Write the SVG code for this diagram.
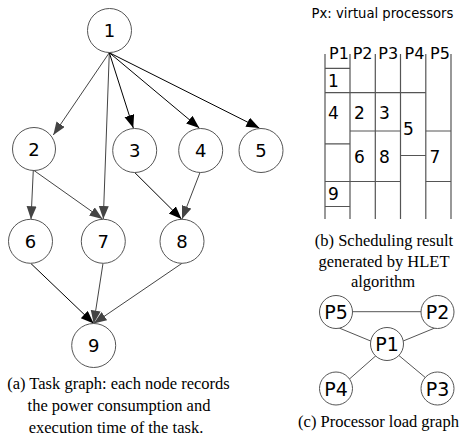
<svg xmlns="http://www.w3.org/2000/svg" width="468" height="439" viewBox="0 0 468 439">
<style>
.node circle{fill:#fff;stroke:#555;stroke-width:1}
.num{font-family:"DejaVu Sans",sans-serif;font-size:18px;fill:#000;text-anchor:middle}
.pn{font-family:"DejaVu Sans",sans-serif;font-size:19px;fill:#000;text-anchor:middle}
.cap{font-family:"Liberation Serif",serif;font-size:16.5px;fill:#000;text-anchor:middle}
.hd{font-family:"DejaVu Sans",sans-serif;font-size:16px;fill:#000}
.cell{font-family:"DejaVu Sans",sans-serif;font-size:17px;fill:#000}
.eb{stroke:#000;stroke-width:1;fill:none;marker-end:url(#ab)}
.eg{stroke:#444;stroke-width:1;fill:none;marker-end:url(#ag)}
.tl{stroke:#555;stroke-width:1.2;fill:none}
.pl{stroke:#555;stroke-width:1;fill:none}
</style>
<defs>
<marker id="ab" markerUnits="userSpaceOnUse" markerWidth="14" markerHeight="11" refX="13" refY="5" orient="auto"><path d="M0,0 L13,5 L0,10 z" fill="#000"/></marker>
<marker id="ag" markerUnits="userSpaceOnUse" markerWidth="14" markerHeight="11" refX="13" refY="5" orient="auto"><path d="M0,0 L13,5 L0,10 z" fill="#444"/></marker>
</defs>
<g id="connectors">
<line class="eg" x1="109.3" y1="52.7" x2="53.3" y2="135"/>
<line class="eg" x1="109.3" y1="52.7" x2="103.3" y2="219"/>
<line class="eb" x1="109.3" y1="52.7" x2="133.3" y2="128"/>
<line class="eb" x1="109.3" y1="52.7" x2="199.3" y2="128"/>
<line class="eb" x1="109.3" y1="52.7" x2="259.3" y2="128"/>
<line class="eg" x1="33.3" y1="170" x2="31" y2="219.3"/>
<line class="eg" x1="33.3" y1="170" x2="102.5" y2="219"/>
<line class="eb" x1="134.7" y1="172.5" x2="181.5" y2="219"/>
<line class="eg" x1="200" y1="172.5" x2="182" y2="219"/>
<line class="eb" x1="30.7" y1="263.3" x2="93.7" y2="323.5"/>
<line class="eg" x1="103" y1="263.3" x2="93.7" y2="323.5"/>
<line class="eg" x1="182" y1="263.3" x2="93.7" y2="323.5"/>
</g>
<g id="n1" class="node"><circle cx="109.5" cy="30.5" r="22"/><text class="num" x="109.5" y="37">1</text></g>
<g id="n2" class="node"><circle cx="34" cy="149" r="21.5"/><text class="num" x="34" y="155.5">2</text></g>
<g id="n3" class="node"><circle cx="134.7" cy="150.5" r="22"/><text class="num" x="134.7" y="157">3</text></g>
<g id="n4" class="node"><circle cx="200.7" cy="150.5" r="22"/><text class="num" x="200.7" y="157">4</text></g>
<g id="n5" class="node"><circle cx="261" cy="150.5" r="22"/><text class="num" x="261" y="157">5</text></g>
<g id="n6" class="node"><circle cx="30.5" cy="241.3" r="22"/><text class="num" x="30.5" y="247.8">6</text></g>
<g id="n7" class="node"><circle cx="103.3" cy="241.3" r="22"/><text class="num" x="103.3" y="247.8">7</text></g>
<g id="n8" class="node"><circle cx="182" cy="241.3" r="22"/><text class="num" x="182" y="247.8">8</text></g>
<g id="n9" class="node"><circle cx="93.7" cy="345.5" r="22"/><text class="num" x="93.7" y="352">9</text></g>
<g id="caption-a">
<text class="cap" x="118.5" y="389">(a) Task graph: each node records</text>
<text class="cap" x="119" y="411">the power consumption and</text>
<text class="cap" x="116" y="433">execution time of the task.</text>
</g>
<g id="schedule">
<text x="382.5" y="18" style="font-family:'DejaVu Sans',sans-serif;font-size:13.2px;text-anchor:middle">Px: virtual processors</text>
<path class="tl" d="M325,54V219 M350,54V219 M375.3,54V219 M400.5,54V219 M425.8,54V219 M451,54V219"/>
<path class="tl" d="M325,68.3H350 M325,92.7H425.8 M325,143.8H350 M350,131H400.5 M400.5,155.5H425.8 M425.8,131H451 M325,181.5H400.5 M425.8,181.5H451 M325,206.5H350"/>
<text class="hd" x="329" y="59">P1</text>
<text class="hd" x="352.7" y="59">P2</text>
<text class="hd" x="378.3" y="59">P3</text>
<text class="hd" x="404.5" y="59">P4</text>
<text class="hd" x="430" y="59">P5</text>
<text class="cell" x="328" y="87">1</text>
<text class="cell" x="328" y="118.5">4</text>
<text class="cell" x="354" y="118.5">2</text>
<text class="cell" x="379" y="118.5">3</text>
<text class="cell" x="403" y="135">5</text>
<text class="cell" x="354" y="163">6</text>
<text class="cell" x="379" y="163">8</text>
<text class="cell" x="429.5" y="163">7</text>
<text class="cell" x="328" y="200">9</text>
</g>
<g id="caption-b">
<text class="cap" x="384" y="246">(b) Scheduling result</text>
<text class="cap" x="384" y="266.5">generated by HLET</text>
<text class="cap" x="383" y="287">algorithm</text>
</g>
<g id="load-connectors">
<line class="pl" x1="352.5" y1="311.7" x2="421" y2="311.7"/>
<line class="pl" x1="336" y1="326.7" x2="372.3" y2="341.7"/>
<line class="pl" x1="401.5" y1="341.7" x2="438" y2="326.7"/>
<line class="pl" x1="376.7" y1="355" x2="348.3" y2="380"/>
<line class="pl" x1="398.3" y1="355" x2="428.3" y2="380"/>
</g>
<g id="P5" class="node"><circle cx="336" cy="312" r="16.5"/><text class="pn" x="336" y="319">P5</text></g>
<g id="P2" class="node"><circle cx="437.5" cy="312" r="16.5"/><text class="pn" x="437.5" y="319">P2</text></g>
<g id="P1" class="node"><circle cx="387" cy="344" r="16.5"/><text class="pn" x="387" y="351">P1</text></g>
<g id="P4" class="node"><circle cx="336" cy="388.5" r="16.5"/><text class="pn" x="336" y="395.5">P4</text></g>
<g id="P3" class="node"><circle cx="437.5" cy="388.5" r="16.5"/><text class="pn" x="437.5" y="395.5">P3</text></g>
<text class="cap" x="378.5" y="427">(c) Processor load graph</text>
</svg>
